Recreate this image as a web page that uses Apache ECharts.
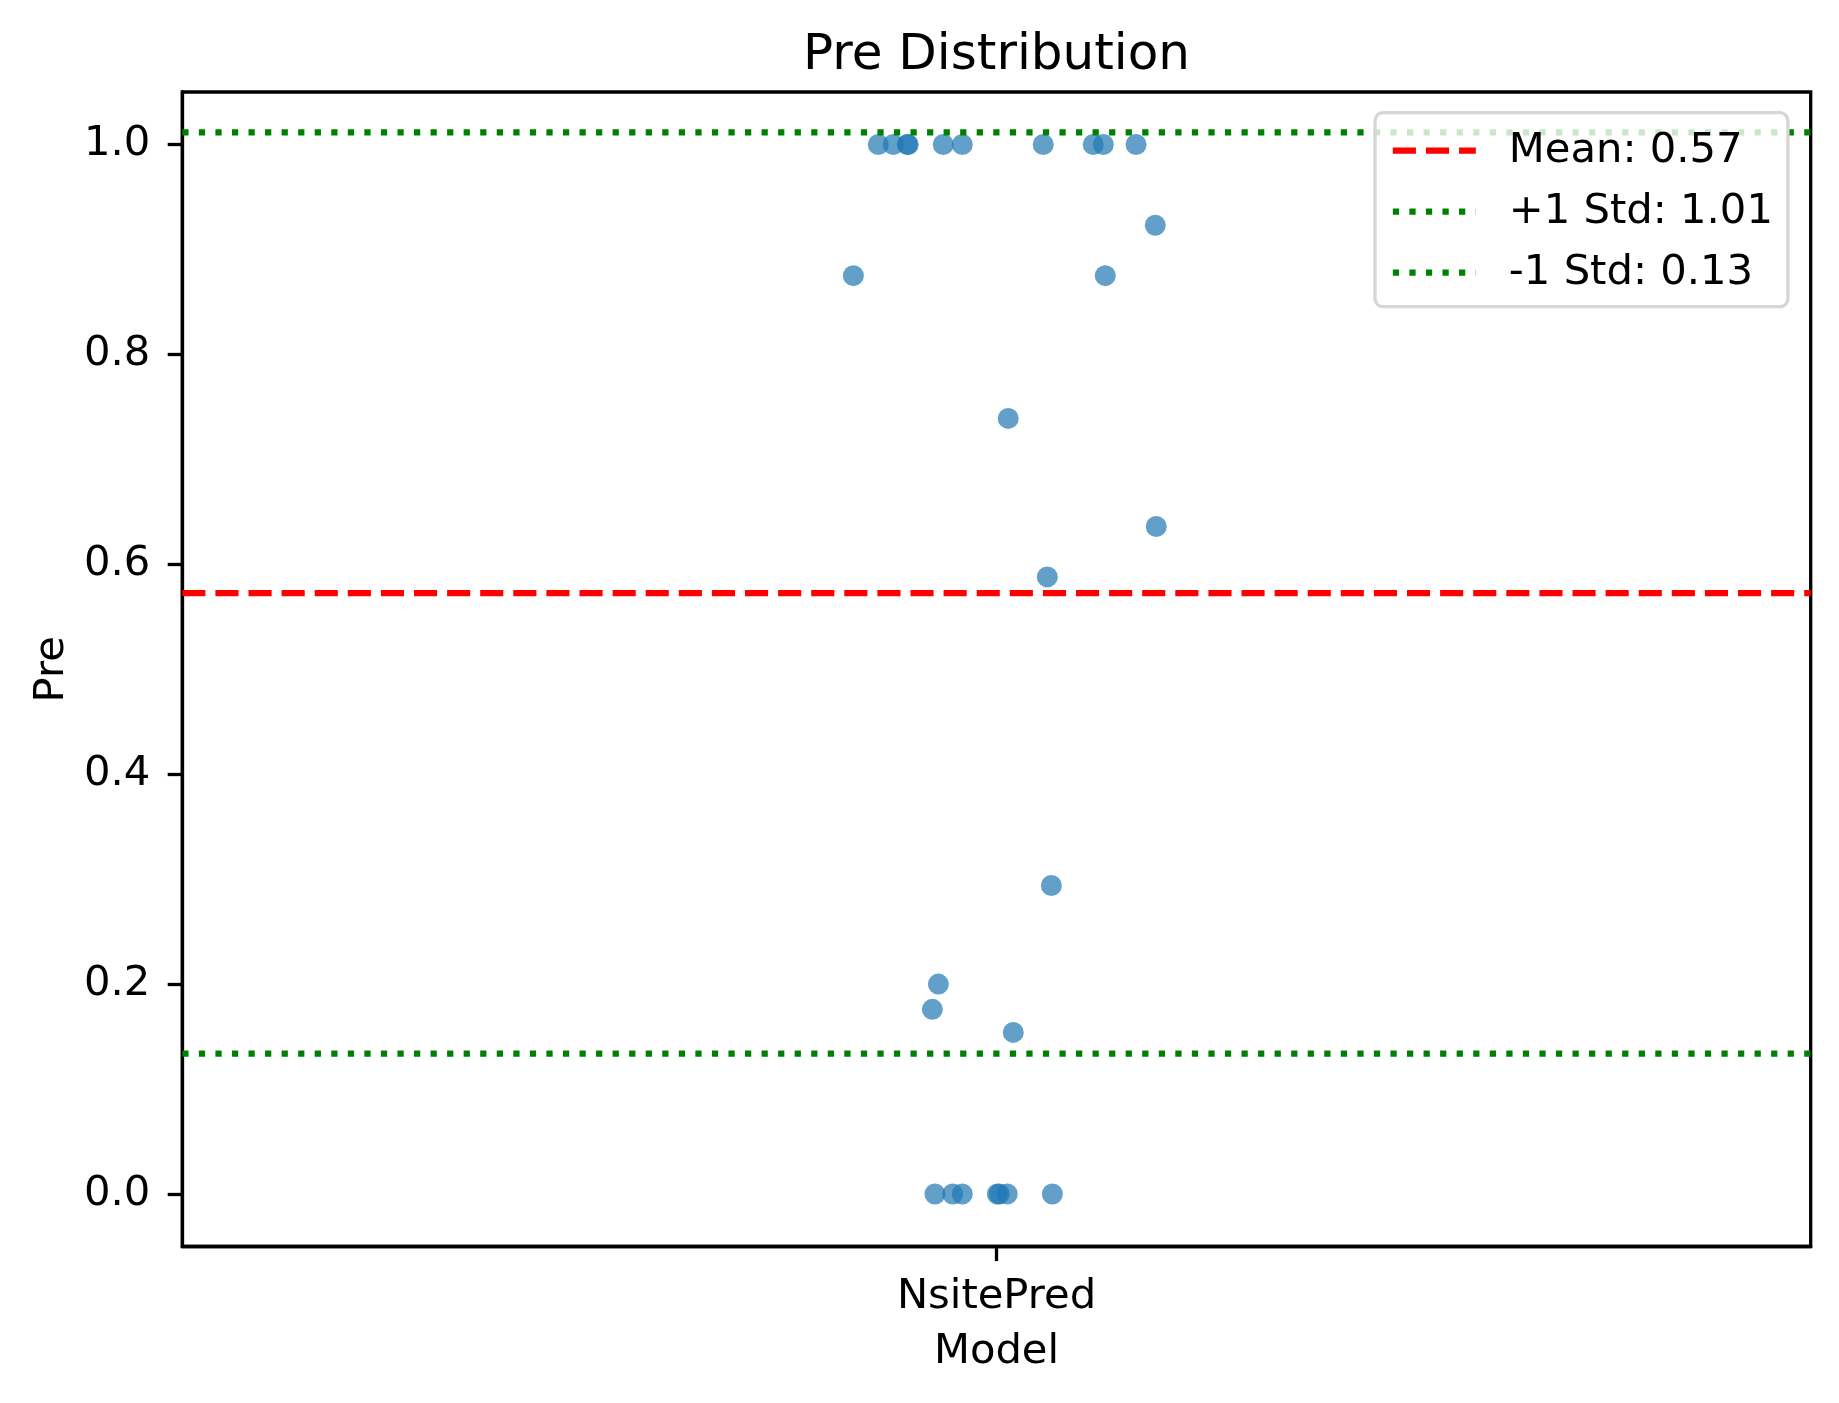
<!DOCTYPE html>
<html>
<head>
<meta charset="utf-8">
<script src="https://cdn.jsdelivr.net/npm/echarts@6/dist/echarts.min.js"></script>
<style>
html,body{margin:0;padding:0;background:#fff;}
#chart{width:1839px;height:1403px;}
</style>
</head>
<body>
<div id="chart"></div>
<script>
// ---- data ----
const categories = ['NsitePred'];
const preValues = [1, 1, 1, 1, 1, 1, 1, 1, 1, 1,
  0.923, 0.875, 0.875, 0.739, 0.636, 0.588, 0.294, 0.2, 0.176, 0.154,
  0, 0, 0, 0, 0, 0, 0];
const jitterOffsets = [-0.0726, -0.0634, -0.0548, -0.0542, -0.0327, -0.0210, 0.0287, 0.0594, 0.0656, 0.0857,
  0.0975, -0.0879, 0.0668, 0.0072, 0.0981, 0.0312, 0.0337, -0.0357, -0.0394, 0.0103,
  -0.0378, -0.0269, -0.0210, 0.0005, 0.0017, 0.0066, 0.0343];
const yTickValues = [0, 0.2, 0.4, 0.6, 0.8, 1.0];

// ---- derived statistics ----
const n = preValues.length;
const mean = preValues.reduce((a, b) => a + b, 0) / n;
const std = Math.sqrt(preValues.reduce((a, b) => a + (b - mean) * (b - mean), 0) / (n - 1));
const upper = mean + std, lower = mean - std;

const meanName = 'Mean: ' + mean.toFixed(2);
const upName = '+1 Std: ' + upper.toFixed(2);
const lowName = '-1 Std: ' + lower.toFixed(2);

const FONT = 'DejaVu Sans';
const FS = 41.7;
const LW = 6.25;
const DASH = [23.1, 10];
const DOT = [6.25, 10.3];

const chart = echarts.init(document.getElementById('chart'), null, {renderer: 'canvas'});
chart.setOption({
  animation: false,
  backgroundColor: '#ffffff',
  title: {
    text: 'Pre Distribution',
    left: 996.5,
    textAlign: 'center',
    top: 31,
    padding: 0,
    textStyle: {fontFamily: FONT, fontSize: 50, fontWeight: 'normal', color: '#000'}
  },
  grid: {
    left: 182.3, top: 92, right: 28.3, bottom: 156.5,
    show: true, borderColor: '#000', borderWidth: 3.3, backgroundColor: 'transparent'
  },
  legend: {
    orient: 'vertical',
    left: 1375,
    top: 112.7,
    align: 'left',
    padding: [17, 15, 13, 14.7],
    itemWidth: 83,
    itemHeight: 14,
    itemGap: 19,
    backgroundColor: 'rgba(255,255,255,0.8)',
    borderColor: '#d6d6d6',
    borderWidth: 3.3,
    borderRadius: 8,
    data: [
      {name: meanName, itemStyle: {opacity: 0}, lineStyle: {color: '#ff0000', width: LW, type: DASH, cap: 'butt'}},
      {name: upName, itemStyle: {opacity: 0}, lineStyle: {color: '#008000', width: LW, type: DOT, cap: 'butt'}},
      {name: lowName, itemStyle: {opacity: 0}, lineStyle: {color: '#008000', width: LW, type: DOT, cap: 'butt'}}
    ],
    textStyle: {fontFamily: FONT, fontSize: FS, color: '#000', lineHeight: 42, padding: [0, 0, 0, 28]}
  },
  xAxis: {
    type: 'value',
    min: -0.5, max: 0.5,
    name: 'Model',
    nameLocation: 'middle',
    nameGap: 85,
    nameTextStyle: {fontFamily: FONT, fontSize: FS, color: '#000'},
    axisLine: {show: true, onZero: false, lineStyle: {color: '#000', width: 3.3}},
    axisTick: {show: true, inside: false, length: 14.6, lineStyle: {color: '#000', width: 3.3}, customValues: [0]},
    axisLabel: {
      show: true, margin: 30, customValues: [0],
      fontFamily: FONT, fontSize: FS, color: '#000',
      formatter: function (v) { return Math.abs(v) < 1e-9 ? categories[0] : ''; }
    },
    splitLine: {show: false}
  },
  yAxis: {
    type: 'value',
    min: -0.05, max: 1.05,
    name: 'Pre',
    nameLocation: 'middle',
    nameGap: 108,
    nameRotate: 90,
    nameTextStyle: {fontFamily: FONT, fontSize: FS, color: '#000'},
    axisLine: {show: true, onZero: false, lineStyle: {color: '#000', width: 3.3}},
    axisTick: {show: true, inside: false, length: 14.6, lineStyle: {color: '#000', width: 3.3}, customValues: yTickValues},
    axisLabel: {
      show: true, margin: 32, customValues: yTickValues,
      fontFamily: FONT, fontSize: FS, color: '#000',
      formatter: function (v) { return v.toFixed(1); }
    },
    splitLine: {show: false}
  },
  series: [
    {
      name: 'Pre',
      type: 'scatter',
      symbol: 'circle',
      symbolSize: 21,
      itemStyle: {color: '#1f77b4', opacity: 0.7, borderWidth: 0},
      data: preValues.map((v, i) => [jitterOffsets[i], v]),
      z: 2
    },
    {
      name: meanName,
      type: 'line',
      symbol: 'none',
      silent: true,
      data: [[-0.5, mean], [0.5, mean]],
      lineStyle: {color: '#ff0000', width: LW, type: DASH, cap: 'butt'},
      itemStyle: {color: '#ff0000'},
      z: 3
    },
    {
      name: upName,
      type: 'line',
      symbol: 'none',
      silent: true,
      data: [[-0.5, upper], [0.5, upper]],
      lineStyle: {color: '#008000', width: LW, type: DOT, cap: 'butt'},
      itemStyle: {color: '#008000'},
      z: 3
    },
    {
      name: lowName,
      type: 'line',
      symbol: 'none',
      silent: true,
      data: [[-0.5, lower], [0.5, lower]],
      lineStyle: {color: '#008000', width: LW, type: DOT, cap: 'butt'},
      itemStyle: {color: '#008000'},
      z: 3
    }
  ]
});
</script>
</body>
</html>
